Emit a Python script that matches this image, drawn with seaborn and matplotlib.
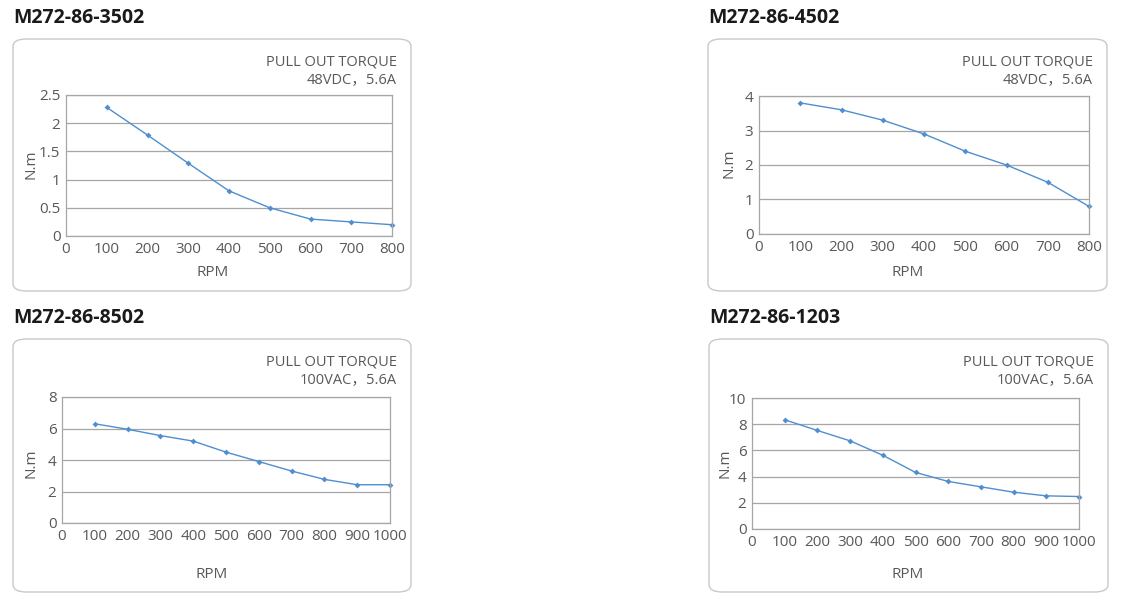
import matplotlib
matplotlib.use("Agg")
import matplotlib.pyplot as plt
import seaborn as sns
import pandas as pd
from matplotlib.patches import FancyBboxPatch

# data
models = ["M272-86-3502", "M272-86-4502", "M272-86-8502", "M272-86-1203"]
supplies = ["48VDC，5.6A", "48VDC，5.6A", "100VAC，5.6A", "100VAC，5.6A"]

rpm_800 = [100, 200, 300, 400, 500, 600, 700, 800]
rpm_1000 = [100, 200, 300, 400, 500, 600, 700, 800, 900, 1000]

torque_3502 = [2.28, 1.79, 1.29, 0.80, 0.50, 0.30, 0.25, 0.20]
torque_4502 = [3.8, 3.6, 3.3, 2.9, 2.4, 2.0, 1.5, 0.8]
torque_8502 = [6.3, 5.95, 5.55, 5.2, 4.5, 3.9, 3.3, 2.77, 2.43, 2.43]
torque_1203 = [8.34, 7.52, 6.73, 5.63, 4.32, 3.63, 3.22, 2.81, 2.53, 2.48]

y_ticks = [[0, 0.5, 1, 1.5, 2, 2.5], [0, 1, 2, 3, 4], [0, 2, 4, 6, 8], [0, 2, 4, 6, 8, 10]]
y_ticklabels = [["0", "0.5", "1", "1.5", "2", "2.5"], ["0", "1", "2", "3", "4"],
                ["0", "2", "4", "6", "8"], ["0", "2", "4", "6", "8", "10"]]

sns.set_theme(style="white")
plt.rcParams['font.family'] = ['Open Sans', 'Noto Sans CJK SC', 'DejaVu Sans']

W, H = 1126, 614
fig = plt.figure(figsize=(W / 100, H / 100), dpi=100)

line_col = "#4f8fd0"
text_col = "#595959"
grid_col = "#a6a6a6"

# pixel layout: (box left, box top, box right, box bottom), (axes left, top, right, bottom)
boxes = [(13, 39, 411, 291), (708, 39, 1107, 291), (13, 339, 411, 592), (709, 339, 1108, 592)]
axes_px = [(66, 95, 392, 236), (759, 96, 1089, 234), (62, 397, 390, 523), (752, 398, 1079, 529)]
# centres of the axis titles in pixels: (RPM x, RPM y, N.m x, N.m y)
label_px = [(213, 273, 31, 164), (908, 272, 729, 163), (212, 574, 31, 463), (908, 574, 725, 463)]
series = [(rpm_800, torque_3502), (rpm_800, torque_4502), (rpm_1000, torque_8502), (rpm_1000, torque_1203)]

for i in range(4):
    bl, bt, br, bb = boxes[i]
    box = FancyBboxPatch((bl / W, 1 - bb / H), (br - bl) / W, (bb - bt) / H,
                         boxstyle="round,pad=0,rounding_size=0.012",
                         transform=fig.transFigure, facecolor="white",
                         edgecolor="#c9c9c9", linewidth=1.0, zorder=-5)
    fig.patches.append(box)

    # model name above each box
    fig.text(bl / W, 1 - (bt - 21) / H, models[i], fontsize=14, fontweight="bold",
             color="#1a1a1a", ha="left", va="center")

    al, at, ar, ab = axes_px[i]
    ax = fig.add_axes([al / W, 1 - ab / H, (ar - al) / W, (ab - at) / H])
    ax.patch.set_alpha(0)

    x, y = series[i]
    df = pd.DataFrame({"RPM": x, "N.m": y})
    sns.lineplot(data=df, x="RPM", y="N.m", ax=ax, color=line_col, linewidth=1.0,
                 marker="D", markersize=3, markeredgewidth=0, clip_on=False)

    xmax = x[-1]
    ax.set_xlim(0, xmax)
    ax.set_ylim(y_ticks[i][0], y_ticks[i][-1])
    ax.set_xticks(list(range(0, xmax + 1, 100)))
    ax.set_yticks(y_ticks[i])
    ax.set_yticklabels(y_ticklabels[i])
    ax.tick_params(axis="both", length=0, labelsize=11, labelcolor=text_col, pad=4)
    ax.yaxis.grid(True, color=grid_col, linewidth=0.9)
    ax.xaxis.grid(False)
    for s in ax.spines.values():
        s.set_color(grid_col)
        s.set_linewidth(0.9)

    rx, ry, nx, ny = label_px[i]
    ax.set_xlabel("RPM", fontsize=11, color=text_col, va="center", ha="center")
    ax.set_ylabel("N.m", fontsize=11, color=text_col, va="center", ha="center")
    ax.xaxis.set_label_coords(rx / W, 1 - ry / H, transform=fig.transFigure)
    ax.yaxis.set_label_coords(nx / W, 1 - ny / H, transform=fig.transFigure)

    # caption at top right of each box
    fig.text((br - 14) / W, 1 - (bt + 23) / H, "PULL OUT TORQUE", fontsize=10.5,
             color=text_col, ha="right", va="center")
    fig.text((br - 14) / W, 1 - (bt + 41) / H, supplies[i], fontsize=10.5,
             color=text_col, ha="right", va="center")

fig.savefig("out.png", dpi=100)
